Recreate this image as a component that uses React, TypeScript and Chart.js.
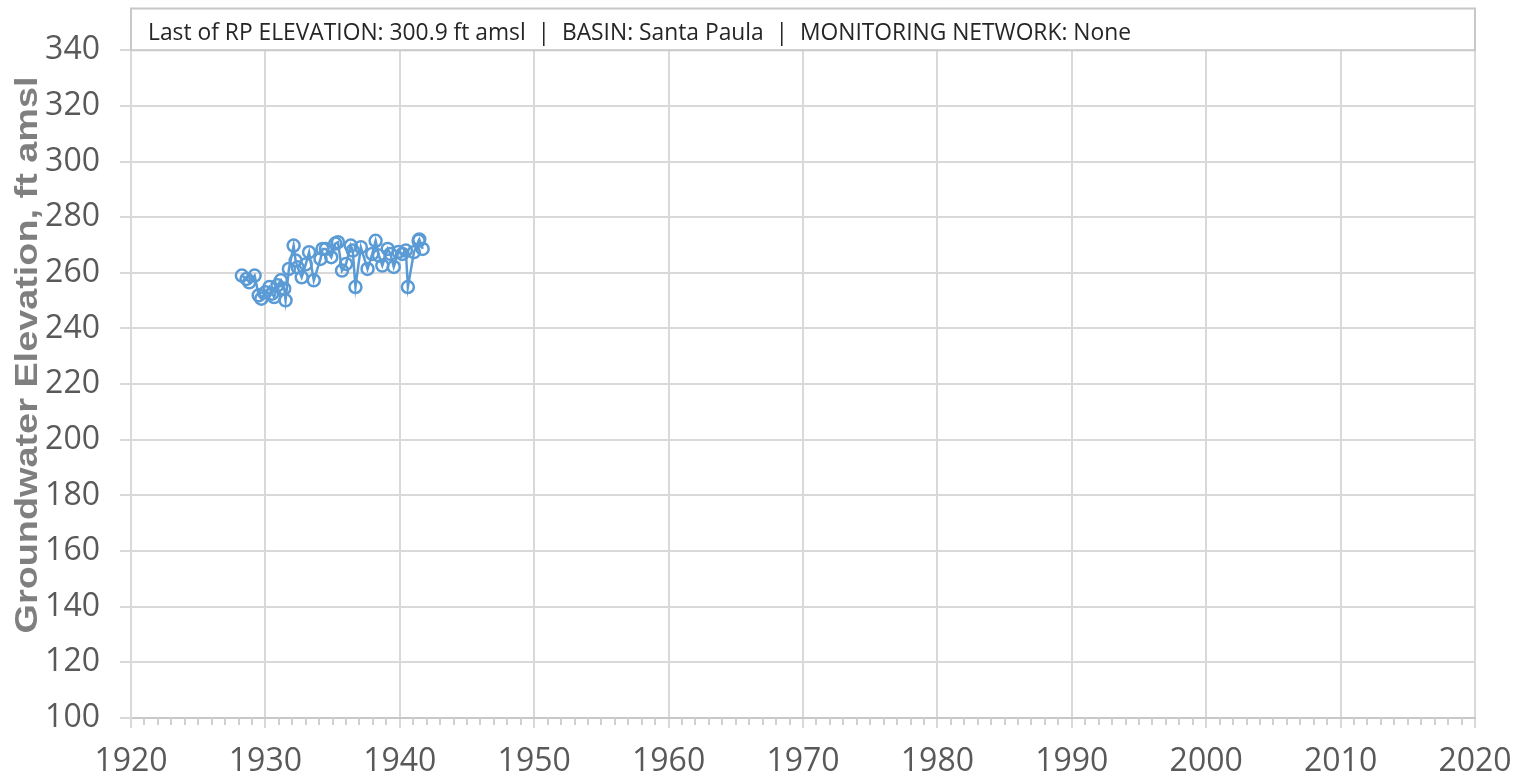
import React, { useEffect, useRef } from "react";
import { Chart, registerables } from "chart.js";

Chart.register(...registerables);

const years = [
  1928.25, 1928.6, 1928.8, 1929.2, 1929.5, 1929.7, 1930.0, 1930.3, 1930.5, 1930.65,
  1930.9, 1931.15, 1931.4, 1931.5, 1931.75, 1932.1, 1932.25, 1932.4, 1932.7, 1933.0,
  1933.25, 1933.6, 1934.1, 1934.25, 1934.5, 1934.9, 1935.2, 1935.4, 1935.7, 1936.0,
  1936.35, 1936.5, 1936.7, 1937.1, 1937.6, 1937.95, 1938.2, 1938.45, 1938.7, 1939.1,
  1939.3, 1939.55, 1939.9, 1940.2, 1940.45, 1940.6, 1941.05, 1941.4, 1941.45, 1941.7,
];
const elevations = [
  259.0, 257.8, 256.6, 259.0, 251.9, 250.7, 253.0, 254.9, 252.5, 251.3,
  255.5, 257.3, 254.3, 250.1, 261.4, 269.8, 264.4, 262.0, 258.4, 263.0,
  267.4, 257.3, 265.0, 268.6, 268.6, 265.6, 270.5, 271.0, 260.8, 263.2,
  269.8, 268.0, 254.9, 269.2, 261.4, 266.8, 271.5, 266.2, 262.6, 268.6,
  266.8, 262.1, 267.5, 266.8, 268.0, 254.9, 267.4, 271.5, 272.0, 268.6,
];
const xTickYears = [1920, 1930, 1940, 1950, 1960, 1970, 1980, 1990, 2000, 2010, 2020];
const yTickValues = [100, 120, 140, 160, 180, 200, 220, 240, 260, 280, 300, 320, 340];
const annotationText =
  "Last of RP ELEVATION: 300.9 ft amsl  |  BASIN: Santa Paula  |  MONITORING NETWORK: None";
const yTitle = "Groundwater Elevation, ft amsl";

export default function App() {
  const ref = useRef<HTMLCanvasElement>(null);

  useEffect(() => {
    document.body.style.margin = "0";
    const canvas = ref.current!;
    const ctx = canvas.getContext("2d")!;

    const overlay = {
      id: "overlay",
      beforeDatasetsDraw(chart: any) {
        const c = chart.ctx;
        const area = chart.chartArea;
        const yS = chart.scales.y;
        const boxBottom = yS.getPixelForValue(340);
        c.save();
        c.fillStyle = "#ffffff";
        c.fillRect(area.left, area.top, area.right - area.left, boxBottom - area.top);
        c.strokeStyle = "#c8c8c8";
        c.lineWidth = 2;
        c.strokeRect(area.left, area.top, area.right - area.left, boxBottom - area.top);
        c.font = "24px 'Open Sans'";
        c.fillStyle = "#262626";
        c.textBaseline = "alphabetic";
        c.textAlign = "left";
        const w = c.measureText(annotationText).width;
        c.translate(148, 40);
        c.scale(983 / w, 1);
        c.fillText(annotationText, 0, 0);
        c.restore();

        const xS = chart.scales.x;
        c.save();
        c.strokeStyle = "#d0d0d0";
        c.lineWidth = 2;
        for (let yr = 1921; yr < 2020; yr++) {
          if (yr % 10 === 0) continue;
          const px = Math.round(xS.getPixelForValue(yr));
          c.beginPath();
          c.moveTo(px, area.bottom);
          c.lineTo(px, area.bottom + 7);
          c.stroke();
        }
        c.restore();
      },
      afterDraw(chart: any) {
        const c = chart.ctx;
        c.save();
        c.font = "bold 31px 'Liberation Sans'";
        c.fillStyle = "#7f7f7f";
        c.textAlign = "center";
        c.textBaseline = "middle";
        const w = c.measureText(yTitle).width;
        c.translate(28, 355);
        c.rotate(-Math.PI / 2);
        c.scale(557 / w, 1);
        c.fillText(yTitle, 0, 0);
        c.restore();
      },
    };

    const chart = new Chart(ctx, {
      type: "scatter",
      data: {
        datasets: [
          {
            data: years.map((x, i) => ({ x, y: elevations[i] })),
            showLine: true,
            borderColor: "#5b9bd5",
            borderWidth: 2.5,
            backgroundColor: "rgba(0,0,0,0)",
            pointRadius: 6,
            pointBorderWidth: 2.5,
            pointBorderColor: "#5b9bd5",
            pointBackgroundColor: "rgba(0,0,0,0)",
            tension: 0,
          },
        ],
      },
      options: {
        animation: false,
        responsive: false,
        devicePixelRatio: 1,
        layout: { padding: { top: 5, right: 52, left: 0, bottom: 0 } },
        plugins: { legend: { display: false }, tooltip: { enabled: false } },
        scales: {
          x: {
            type: "linear",
            min: 1920,
            max: 2020,
            afterBuildTicks: (s: any) => {
              s.ticks = xTickYears.map((v) => ({ value: v }));
            },
            afterFit: (s: any) => {
              s.height = 61;
              s.paddingLeft = 0;
              s.paddingRight = 0;
            },
            ticks: {
              autoSkip: false,
              maxRotation: 0,
              padding: 15,
              color: "#595959",
              font: { family: "'Open Sans'", size: 32 },
              callback: (v: any) => String(v),
            },
            grid: { color: "#d9d9d9", lineWidth: 2, tickLength: 10 },
            border: { color: "#c8c8c8", width: 2 },
          },
          y: {
            type: "linear",
            min: 100,
            max: 355,
            afterBuildTicks: (s: any) => {
              s.ticks = yTickValues.map((v) => ({ value: v }));
            },
            afterFit: (s: any) => {
              s.width = 131;
              s.paddingTop = 0;
              s.paddingBottom = 0;
            },
            ticks: {
              padding: 20,
              color: "#595959",
              font: { family: "'Open Sans'", size: 32 },
              callback: (v: any) => String(v),
            },
            grid: { color: "#d9d9d9", lineWidth: 2, tickLength: 11 },
            border: { color: "#d9d9d9", width: 2 },
          },
        },
      },
      plugins: [overlay],
    });

    return () => chart.destroy();
  }, []);

  return (
    <canvas ref={ref} width={1527} height={779} style={{ display: "block" }} />
  );
}
